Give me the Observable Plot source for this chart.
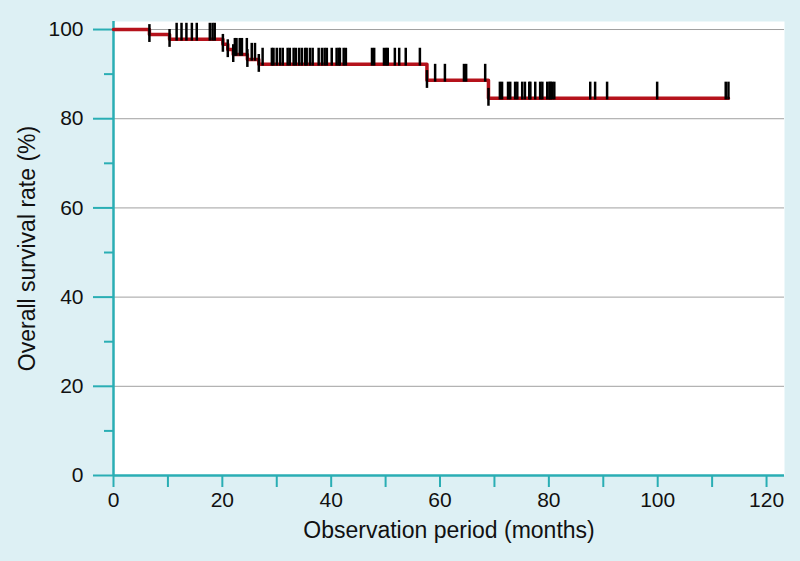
<!DOCTYPE html>
<html><head><meta charset="utf-8">
<script src="https://cdn.jsdelivr.net/npm/d3@7"></script>
<script src="https://cdn.jsdelivr.net/npm/@observablehq/plot@0.6"></script>
<style>
html,body{margin:0;padding:0;background:#ddf0f4;}
#chart svg{display:block;background:transparent;}
</style></head><body><div id="chart"></div>
<script>
// Kaplan–Meier steps (event times in months, survival % after each event)
const eventTimes = [6.6, 10.3, 20.1, 21.0, 22.0, 24.6, 26.7, 57.6, 68.9];
const survival   = [98.9, 97.8, 96.7, 95.5, 94.4, 93.3, 92.2, 88.6, 84.6];
// Censored observations (months)
const censorTimes = [
  11.6, 12.5, 13.4, 14.4, 15.3, 17.7, 18.2, 18.6,
  22.3, 22.6, 23.2, 23.6, 24.5, 25.4, 26.0,
  27.4, 29.1, 29.4, 30.0, 30.6, 31.1, 32.0, 32.4, 33.1, 33.5, 34.1, 34.6, 35.2, 35.5,
  36.1, 36.6, 37.7, 38.3, 38.8, 39.2, 40.1, 41.0, 41.4, 41.6, 42.3, 42.7,
  47.5, 47.9, 49.7, 50.1, 50.4, 51.7, 52.5, 53.7, 56.3,
  59.1, 60.9, 64.4, 64.8, 68.3,
  71.0, 71.4, 72.5, 72.9, 73.8, 74.2, 75.1, 75.6, 76.4, 76.6, 77.5, 78.4, 78.8,
  79.7, 80.1, 80.3, 80.6, 81.0, 87.6, 88.5, 90.7, 99.9, 112.5, 113.0
];
const yTicks = [0, 20, 40, 60, 80, 100];
const yMinor = [10, 30, 50, 70, 90];
const xTicks = [0, 20, 40, 60, 80, 100, 120];
const xMinor = [10, 30, 50, 70, 90, 110];

const teal = "#2aaeb4";
const red = "#b5121b";

function levelAt(t) {
  let s = 100;
  eventTimes.forEach((e, i) => { if (e <= t) s = survival[i]; });
  return s;
}
const lastT = d3.max(censorTimes);
const steps = [{t: 0, s: 100}]
  .concat(eventTimes.map((t, i) => ({t, s: survival[i]})))
  .concat([{t: lastT, s: survival[survival.length - 1]}]);
const censor = censorTimes.map(t => ({t, s: levelAt(t)}));
const events = eventTimes.map((t, i) => ({t, s: survival[i]}));

const chart = Plot.plot({
  width: 800, height: 561,
  marginLeft: 113, marginRight: 16, marginTop: 21, marginBottom: 86,
  style: {background: "transparent", fontFamily: "'Liberation Sans', Arial, sans-serif", fontSize: "21px", color: "#111"},
  x: {domain: [0, 123.3]},
  y: {domain: [0, 101.8]},
  marks: [
    Plot.frame({fill: "white", stroke: null}),
    Plot.gridY(yTicks.slice(1), {stroke: "#a0a0a0", strokeOpacity: 1, strokeWidth: 1}),
    Plot.axisY(yMinor, {tickSize: 9, text: null, stroke: teal, strokeWidth: 2, label: null}),
    Plot.axisY(yTicks, {tickSize: 20, tickPadding: 10, stroke: teal, strokeWidth: 2, fill: "#111", fontSize: 21,
      label: "Overall survival rate (%)", labelAnchor: "center", labelArrow: "none", labelOffset: 95}),
    Plot.axisX(xMinor, {tickSize: 12, text: null, stroke: teal, strokeWidth: 2, label: null}),
    Plot.axisX(xTicks, {tickSize: 12, tickPadding: 5, stroke: teal, strokeWidth: 2, fill: "#111", fontSize: 21,
      label: "Observation period (months)", labelAnchor: "center", labelArrow: "none", labelOffset: 62}),
    Plot.ruleY([0], {stroke: teal, strokeWidth: 2.5}),
    Plot.ruleX([0], {stroke: teal, strokeWidth: 2.5}),
    Plot.line(steps, {x: "t", y: "s", curve: "step-after", stroke: red, strokeWidth: 3.5}),
    Plot.ruleX(censor, {x: "t", y1: d => d.s - 0.4, y2: d => d.s + 3.6, stroke: "#000", strokeWidth: 2.5}),
    Plot.ruleX(events, {x: "t", y1: d => d.s - 1.8, y2: d => d.s + 2.2, stroke: "#000", strokeWidth: 2.5})
  ]
});
// Axis titles slightly larger than tick labels
chart.querySelectorAll("g[aria-label='y-axis label'] text, g[aria-label='x-axis label'] text")
  .forEach(t => t.setAttribute("font-size", "23"));
document.getElementById("chart").appendChild(chart);
</script>
</body></html>
